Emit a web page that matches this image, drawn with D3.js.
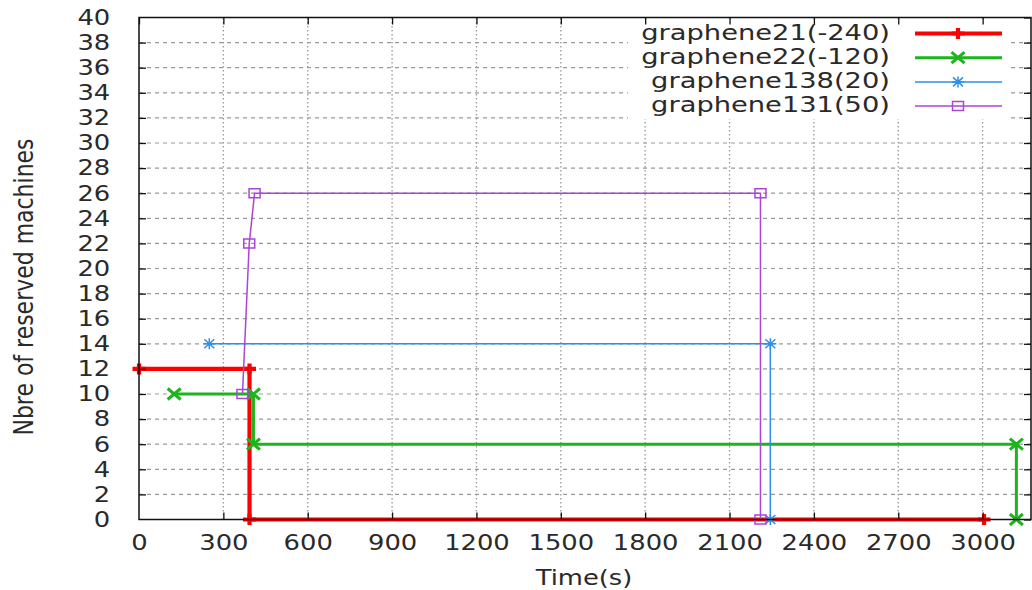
<!DOCTYPE html>
<html>
<head>
<meta charset="utf-8">
<script src="https://cdn.jsdelivr.net/npm/d3@7"></script>
<style>
  body { margin: 0; background: white; }
  text { font-family: "DejaVu Sans", sans-serif; fill: #2a2a2a; }
</style>
</head>
<body>
<div id="chart"></div>
<script>
// ---------- data ----------
const seriesNames = ["graphene21(-240)", "graphene22(-120)", "graphene138(20)", "graphene131(50)"];

const g21Time = [0, 393, 393, 3005];
const g21Machines = [12, 12, 0, 0];

const g22Time = [125, 407, 407, 3120, 3120];
const g22Machines = [10, 10, 6, 6, 0];

const g138Time = [250, 2245, 2245];
const g138Machines = [14, 14, 0];

const g131Time = [368, 392, 411, 2210, 2210];
const g131Machines = [10, 22, 26, 26, 0];

const xTickValues = [0, 300, 600, 900, 1200, 1500, 1800, 2100, 2400, 2700, 3000];
const yTickValues = [0, 2, 4, 6, 8, 10, 12, 14, 16, 18, 20, 22, 24, 26, 28, 30, 32, 34, 36, 38, 40];

const xLabel = "Time(s)";
const yLabel = "Nbre of reserved machines";

// ---------- setup ----------
const width = 1032, height = 590;
const stretch = 1.2; // the original picture is stretched sideways

const svg = d3.select("#chart").append("svg")
    .attr("width", width)
    .attr("height", height)
    .style("display", "block");

const x = d3.scaleLinear().domain([0, 3172]).range([139, 1031]);
const y = d3.scaleLinear().domain([0, 40]).range([519.5, 17.5]);

// styles per series (gnuplot-ish)
const styles = [
    { color: "#ff0000", width: 4.2, marker: "plus" },
    { color: "#1db41d", width: 3, marker: "times" },
    { color: "#2f8ee6", width: 1.5, marker: "asterisk" },
    { color: "#ab45d8", width: 1.5, marker: "square" }
];

const series = [
    { name: seriesNames[0], pts: g21Time.map((t, i) => [t, g21Machines[i]]) },
    { name: seriesNames[1], pts: g22Time.map((t, i) => [t, g22Machines[i]]) },
    { name: seriesNames[2], pts: g138Time.map((t, i) => [t, g138Machines[i]]) },
    { name: seriesNames[3], pts: g131Time.map((t, i) => [t, g131Machines[i]]) }
];

function markerPath(kind) {
    const p = d3.path();
    if (kind === "plus") {
        p.moveTo(-6.5, 0); p.lineTo(6.5, 0);
        p.moveTo(0, -5.5); p.lineTo(0, 5.5);
    } else if (kind === "times") {
        p.moveTo(-6.5, -5.5); p.lineTo(6.5, 5.5);
        p.moveTo(-6.5, 5.5); p.lineTo(6.5, -5.5);
    } else if (kind === "asterisk") {
        p.moveTo(-6, 0); p.lineTo(6, 0);
        p.moveTo(0, -5.5); p.lineTo(0, 5.5);
        p.moveTo(-5, -4.5); p.lineTo(5, 4.5);
        p.moveTo(-5, 4.5); p.lineTo(5, -4.5);
    } else {
        p.rect(-5.5, -4.5, 11, 9);
    }
    return p.toString();
}

// ---------- grid ----------
const grid = svg.append("g");
grid.selectAll(".hg")
    .data(yTickValues.filter(v => v > 0 && v < 40))
    .join("line")
    .attr("x1", x.range()[0]).attr("x2", x.range()[1])
    .attr("y1", d => y(d)).attr("y2", d => y(d))
    .attr("stroke", "#9a9a9a")
    .attr("stroke-width", 1.2)
    .attr("stroke-dasharray", "4,4");
grid.selectAll(".vg")
    .data(xTickValues.filter(v => v > 0))
    .join("line")
    .attr("x1", d => x(d)).attr("x2", d => x(d))
    .attr("y1", y.range()[0]).attr("y2", y.range()[1])
    .attr("stroke", "#9a9a9a")
    .attr("stroke-width", 1.3)
    .attr("stroke-dasharray", "1.5,2.5");

// opaque key box
svg.append("rect")
    .attr("x", 628).attr("y", 19)
    .attr("width", 382).attr("height", 100)
    .attr("fill", "white");

// ---------- data ----------
const line = d3.line().x(d => x(d[0])).y(d => y(d[1]));

series.forEach((s, i) => {
    const st = styles[i];
    const g = svg.append("g");
    g.append("path")
        .datum(s.pts)
        .attr("d", line)
        .attr("fill", "none")
        .attr("stroke", st.color)
        .attr("stroke-width", st.width);
    g.selectAll("path.mk")
        .data(s.pts)
        .join("path")
        .attr("class", "mk")
        .attr("transform", d => `translate(${x(d[0])},${y(d[1])})`)
        .attr("d", markerPath(st.marker))
        .attr("fill", "none")
        .attr("stroke", st.color)
        .attr("stroke-width", st.width);
});

// ---------- axes (inward ticks, mirrored) ----------
const xAxis = svg.append("g")
    .attr("transform", `translate(0,${y(0)})`)
    .call(d3.axisBottom(x).tickValues(xTickValues).tickFormat(d3.format("d"))
        .tickSizeInner(-7).tickSizeOuter(0).tickPadding(15.5));
const yAxis = svg.append("g")
    .attr("transform", `translate(${x(0)},0)`)
    .call(d3.axisLeft(y).tickValues(yTickValues).tickFormat(d3.format("d"))
        .tickSizeInner(-7).tickSizeOuter(0).tickPadding(24));
svg.append("g")
    .attr("transform", `translate(0,${y(40)})`)
    .call(d3.axisTop(x).tickValues(xTickValues).tickSizeInner(-7).tickSizeOuter(0).tickFormat(""));
svg.append("g")
    .attr("transform", `translate(${x.range()[1]},0)`)
    .call(d3.axisRight(y).tickValues(yTickValues).tickSizeInner(-7).tickSizeOuter(0).tickFormat(""));

svg.selectAll(".domain").remove();
svg.selectAll(".tick line").attr("stroke", "#111").attr("stroke-width", 1.3);
[xAxis, yAxis].forEach(a => a.selectAll("text")
    .attr("font-size", 21.5)
    .attr("fill", "#2a2a2a")
    .attr("font-family", "DejaVu Sans, sans-serif")
    .attr("transform", `scale(${stretch},1)`));
xAxis.selectAll(".tick").filter(d => d === 0).select("line").remove();
yAxis.selectAll(".tick").filter(d => d === 0 || d === 40).select("line").remove();

// border (drawn in front like gnuplot)
svg.append("rect")
    .attr("x", x.range()[0]).attr("y", y.range()[1])
    .attr("width", x.range()[1] - x.range()[0])
    .attr("height", y.range()[0] - y.range()[1])
    .attr("fill", "none")
    .attr("stroke", "#111")
    .attr("stroke-width", 1.5);

// ---------- axis titles ----------
svg.append("text")
    .attr("transform", `translate(584,585) scale(${stretch},1)`)
    .attr("text-anchor", "middle")
    .attr("font-size", 21.5)
    .text(xLabel);
svg.append("text")
    .attr("transform", `translate(33,287) scale(${stretch},1) rotate(-90)`)
    .attr("text-anchor", "middle")
    .attr("font-size", 22)
    .text(yLabel);

// ---------- key ----------
const key = svg.append("g");
series.forEach((s, i) => {
    const st = styles[i];
    const base = 39.5 + i * 24.2;
    key.append("text")
        .attr("transform", `translate(890,${base}) scale(1.27,1)`)
        .attr("text-anchor", "end")
        .attr("font-size", 21.5)
        .text(s.name);
    key.append("line")
        .attr("x1", 915).attr("x2", 1002)
        .attr("y1", base - 6).attr("y2", base - 6)
        .attr("stroke", st.color)
        .attr("stroke-width", st.width);
    key.append("path")
        .attr("transform", `translate(958,${base - 6})`)
        .attr("d", markerPath(st.marker))
        .attr("fill", "none")
        .attr("stroke", st.color)
        .attr("stroke-width", st.width);
});
</script>
</body>
</html>
